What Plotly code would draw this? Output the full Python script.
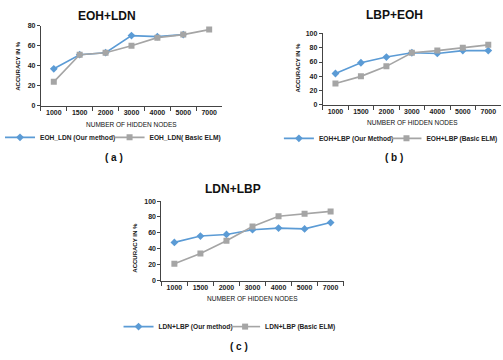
import plotly.graph_objects as go

nodes = ["1000", "1500", "2000", "3000", "4000", "5000", "7000"]

a_ours = [37, 51, 53, 70, 69, 71, None]
a_elm = [24, 51, 53, 60, 68, 71, 76]
b_ours = [44, 59, 67, 73, 72, 76, 76]
b_elm = [30, 40, 54, 73, 76, 80, 84]
c_ours = [48, 56, 58, 64, 66, 65, 73]
c_elm = [21, 34, 50, 68, 81, 84, 87]

names_a = ["EOH_LDN (Our method)", "EOH_LDN( Basic ELM)"]
names_b = ["EOH+LBP (Our Method)", "EOH+LBP (Basic ELM)"]
names_c = ["LDN+LBP (Our method)", "LDN+LBP (Basic ELM)"]

W, H = 503, 360
BLUE = "#5B9BD5"
GRAY = "#A5A5A5"
FONT = "Liberation Sans"


def px(x):
    return x / W


def py(y):
    return 1 - y / H


fig = go.Figure()

panels = [
    ("x", "y", ("legend", "legend2"), a_ours, a_elm, names_a),
    ("x2", "y2", ("legend3", "legend4"), b_ours, b_elm, names_b),
    ("x3", "y3", ("legend5", "legend6"), c_ours, c_elm, names_c),
]
for xa, ya, lg, ours, elm, nm in panels:
    fig.add_trace(go.Scatter(
        x=nodes, y=ours, name=nm[0], xaxis=xa, yaxis=ya, legend=lg[0],
        mode="lines+markers", line=dict(color=BLUE, width=1.6),
        marker=dict(symbol="diamond", size=6, color=BLUE)))
    fig.add_trace(go.Scatter(
        x=nodes, y=elm, name=nm[1], xaxis=xa, yaxis=ya, legend=lg[1],
        mode="lines+markers", line=dict(color=GRAY, width=1.6),
        marker=dict(symbol="square", size=6, color=GRAY)))

xcommon = dict(type="category", range=[-0.5, 6.5], showline=True,
               linecolor="#444", linewidth=1, ticks="outside",
               tickson="boundaries", ticklen=4, tickcolor="#444",
               showgrid=False, zeroline=False, tickangle=0,
               tickfont=dict(family=FONT, size=7, color="#222", weight="bold"))
ycommon = dict(showline=True, linecolor="#444", linewidth=1, ticks="outside",
               ticklen=3, tickcolor="#444", showgrid=False, zeroline=False,
               tickfont=dict(family=FONT, size=7, color="#222", weight="bold"))

fig.update_layout(
    width=W, height=H, margin=dict(l=0, r=0, t=0, b=0),
    paper_bgcolor="white", plot_bgcolor="white", showlegend=True,
    xaxis=dict(domain=[px(39), px(221)], anchor="y", **xcommon),
    yaxis=dict(domain=[py(104), py(22)], anchor="x", range=[0, 80], dtick=20, **ycommon),
    xaxis2=dict(domain=[px(322), px(501)], anchor="y2", **xcommon),
    yaxis2=dict(domain=[py(103), py(30)], anchor="x2", range=[0, 100], dtick=20, **ycommon),
    xaxis3=dict(domain=[px(160), px(343)], anchor="y3", **xcommon),
    yaxis3=dict(domain=[py(282), py(201)], anchor="x3", range=[0, 100], dtick=20, **ycommon),
)

legfont = dict(family=FONT, size=6.6, color="#222", weight="bold")
leg_pos = {
    "legend": (38, 136), "legend2": (148, 136),
    "legend3": (318, 137), "legend4": (426, 137),
    "legend5": (157, 329), "legend6": (264, 329),
}
for key, (tx, ty) in leg_pos.items():
    fig.update_layout({key: dict(orientation="h", x=px(tx - 40), y=py(ty),
                                 xanchor="left", yanchor="middle", font=legfont,
                                 itemwidth=30, bgcolor="rgba(0,0,0,0)")})

anns = [
    ("EOH+LDN", 105, 12, 12, "bold", 0),
    ("LBP+EOH", 394, 11, 12, "bold", 0),
    ("LDN+LBP", 232, 189, 12, "bold", 0),
    ("NUMBER OF HIDDEN NODES", 130, 123, 6.5, "normal", 0),
    ("NUMBER OF HIDDEN NODES", 412, 121, 6.5, "normal", 0),
    ("NUMBER OF HIDDEN NODES", 251, 300, 6.5, "normal", 0),
    ("ACCURACY IN %", 16, 63, 6, "bold", -90),
    ("ACCURACY IN %", 297, 65, 6, "bold", -90),
    ("ACCURACY IN %", 134, 248, 6, "bold", -90),
    ("( a )", 112, 157, 10, "bold", 0),
    ("( b )", 394, 157, 10, "bold", 0),
    ("( c )", 238, 349, 10, "bold", 0),
]
for t, x, y, s, w, ang in anns:
    fig.add_annotation(text=t, x=px(x), y=py(y), xref="paper", yref="paper",
                       showarrow=False, xanchor="center", yanchor="middle",
                       textangle=ang,
                       font=dict(family=FONT, size=s, color="#111", weight=w))

fig.write_html("out.html")
